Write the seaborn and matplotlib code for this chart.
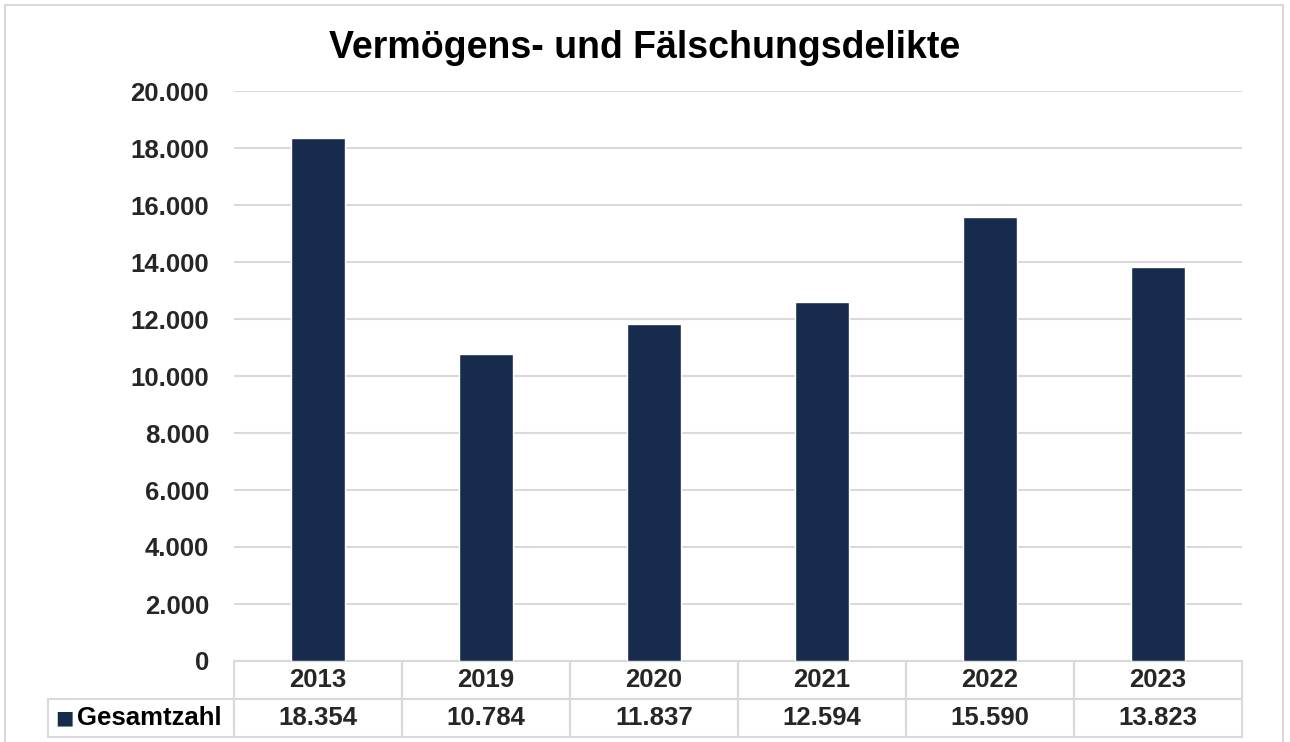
import matplotlib

matplotlib.use("Agg")
import matplotlib.pyplot as plt
import pandas as pd
import seaborn as sns
from matplotlib.patches import Rectangle
from matplotlib.ticker import FuncFormatter

YEARS = ["2013", "2019", "2020", "2021", "2022", "2023"]
TOTALS = [18354, 10784, 11837, 12594, 15590, 13823]
SERIES_NAME = "Gesamtzahl"
TITLE = "Vermögens- und Fälschungsdelikte"

BAR_COLOR = "#172b4d"
GRID_COLOR = "#d9d9d9"


def de_thousands(v, _pos=None):
    return f"{int(round(v)):,}".replace(",", ".")


def main() -> None:
    sns.set_theme(style="white")
    plt.rcParams["font.family"] = ["Liberation Sans", "DejaVu Sans"]
    plt.rcParams["font.weight"] = "bold"

    df = pd.DataFrame({"Jahr": YEARS, SERIES_NAME: TOTALS})

    W, H = 1290, 742
    fig = plt.figure(figsize=(W / 100, H / 100), dpi=100)
    ax = fig.add_axes([234 / W, 1 - 661 / H, (1242 - 234) / W, (661 - 91) / H])
    ax_w, ax_h = 1242 - 234, 661 - 91

    sns.barplot(data=df, x="Jahr", y=SERIES_NAME, color=BAR_COLOR, width=0.32,
                saturation=1, ax=ax, zorder=3)

    ax.set_ylim(0, 20000)
    ax.set_yticks(range(0, 20001, 2000))
    ax.yaxis.set_major_formatter(FuncFormatter(de_thousands))
    ax.tick_params(axis="y", labelsize=18.5, length=0, pad=18)
    ax.set_xticks([])
    ax.set_xlabel("")
    ax.set_ylabel("")
    ax.yaxis.grid(True, color=GRID_COLOR, linewidth=1.5, zorder=0)
    for s in ax.spines.values():
        s.set_visible(False)
    for lbl in ax.get_yticklabels():
        lbl.set_fontweight("bold")

    # data table under the plot (first column holds the series label)
    label_w = 234 - 48
    cat_w = ax_w / len(YEARS)
    table = ax.table(
        cellText=[[""] + YEARS, [""] + [de_thousands(v) for v in TOTALS]],
        colWidths=[label_w] + [cat_w] * len(YEARS),
        cellLoc="center",
        bbox=[-label_w / ax_w, -76 / ax_h, 1 + label_w / ax_w, 76 / ax_h],
    )
    table.auto_set_font_size(False)
    for (r, c), cell in table.get_celld().items():
        cell.set_edgecolor(GRID_COLOR)
        cell.set_linewidth(1.5)
        cell.get_text().set_fontsize(18.5)
        cell.get_text().set_fontweight("bold")
    table[0, 0].set_edgecolor("none")
    table[0, 0].set_facecolor("none")

    # legend key + series name in the row label cell
    ax.text((64 - 234) / ax_w, -57 / ax_h, "■", transform=ax.transAxes,
            color=BAR_COLOR, fontsize=14, ha="center", va="center",
            family=["DejaVu Sans"])
    ax.text((77 - 234) / ax_w, -57 / ax_h, SERIES_NAME, transform=ax.transAxes,
            color="black", fontsize=18.5, fontweight="bold", ha="left", va="center")

    fig.text(0.5, 1 - 48 / H, TITLE, ha="center", va="center",
             fontsize=27, fontweight="bold", color="black")

    fig.patches.append(Rectangle((5 / W, -0.02), 1278 / W, 1.0 - 5 / H + 0.02,
                                 transform=fig.transFigure, fill=False,
                                 edgecolor=GRID_COLOR, linewidth=1.5))

    fig.savefig("out.png", dpi=100)
    plt.close(fig)


if __name__ == "__main__":
    main()
